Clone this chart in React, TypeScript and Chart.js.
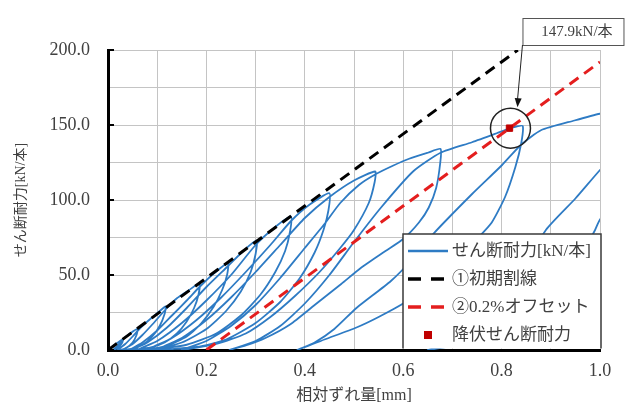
import React, { useEffect, useRef } from "react";
import { Chart, registerables } from "chart.js";

Chart.register(...registerables);

type Pt = [number, number];

// ---- axes ----
const xMin = 0;
const xMax = 1.0;
const xGridStep = 0.1;
const yMin = 0;
const yMax = 200;
const yGridStep = 25;
const xTickLabels = ["0.0", "0.2", "0.4", "0.6", "0.8", "1.0"];
const yTickLabels = ["0.0", "50.0", "100.0", "150.0", "200.0"];

// ---- texts ----
const seriesNames = ["せん断耐力[kN/本]", "①初期割線", "②0.2%オフセット", "降伏せん断耐力"];
const xTitle = "相対ずれ量[mm]";
const yTitle = "せん断耐力[kN/本]";
const annotationText = "147.9kN/本";

// ---- blue hysteresis curve: each block = unloading from a peak, then reloading to the next peak ----
const loading0: Pt[] = [[0, 0], [0.01, 2.5], [0.02, 5], [0.03, 7]];
const cycle1: Pt[] = [[0.029, 5], [0.022, 2], [0.015, 0.5], [0.01, 0], [0.02, 3], [0.03, 7], [0.045, 11], [0.06, 14]];
const cycle2: Pt[] = [[0.058, 10], [0.05, 5], [0.035, 1], [0.02, 0], [0.035, 4], [0.05, 9], [0.065, 14.5], [0.08, 19], [0.1, 24.5], [0.117, 29]];
const cycle3: Pt[] = [[0.115, 24], [0.105, 16], [0.09, 9], [0.07, 3.5], [0.05, 1], [0.03, 0], [0.05, 4], [0.07, 10], [0.09, 17], [0.117, 27], [0.14, 34.5], [0.165, 40], [0.186, 44.5]];
const cycle4: Pt[] = [[0.184, 37], [0.175, 28], [0.16, 19], [0.14, 11], [0.115, 5], [0.085, 1.5], [0.045, 0], [0.07, 5], [0.1, 13], [0.13, 23], [0.16, 33], [0.186, 42], [0.215, 51], [0.244, 58]];
const cycle5: Pt[] = [[0.242, 50], [0.232, 40], [0.215, 29], [0.19, 18], [0.16, 9], [0.12, 3], [0.08, 0.5], [0.05, 0], [0.08, 5], [0.12, 15], [0.16, 28], [0.2, 42], [0.244, 56], [0.275, 66], [0.302, 73]];
const cycle6: Pt[] = [[0.3, 64], [0.29, 52], [0.27, 39], [0.24, 26], [0.2, 14], [0.15, 5], [0.1, 1], [0.06, 0], [0.1, 6], [0.15, 18], [0.2, 33], [0.25, 50], [0.3, 70], [0.34, 82], [0.372, 89]];
const cycle7: Pt[] = [[0.37, 79], [0.36, 66], [0.34, 52], [0.31, 37], [0.27, 23], [0.22, 11], [0.16, 3.5], [0.08, 0], [0.13, 8], [0.18, 20], [0.23, 35], [0.28, 52], [0.33, 70], [0.372, 86], [0.41, 97], [0.45, 104.5]];
const cycle8: Pt[] = [[0.448, 93], [0.438, 80], [0.42, 65], [0.39, 48], [0.35, 32], [0.3, 18], [0.24, 7], [0.18, 2], [0.1, 0], [0.15, 8], [0.2, 20], [0.25, 35], [0.3, 52], [0.35, 70], [0.4, 88], [0.45, 102], [0.5, 113], [0.543, 119]];
const cycle9: Pt[] = [[0.542, 112], [0.53, 98], [0.5, 80], [0.472, 68], [0.43, 52], [0.38, 36], [0.33, 22], [0.28, 11], [0.22, 4], [0.15, 0], [0.2, 6], [0.25, 16], [0.3, 30], [0.35, 48], [0.4, 68], [0.44, 84], [0.472, 98], [0.51, 110], [0.543, 117], [0.58, 123], [0.612, 127.5], [0.65, 131.5], [0.676, 134]];
const cycle10: Pt[] = [[0.675, 124], [0.667, 108], [0.652, 95], [0.632, 85], [0.6, 74], [0.564, 66], [0.515, 55], [0.474, 44], [0.42, 30], [0.37, 17], [0.32, 8], [0.28, 3], [0.247, 0], [0.3, 6], [0.35, 16], [0.4, 31], [0.45, 50], [0.5, 72], [0.555, 95], [0.62, 119], [0.676, 131.5], [0.74, 138.5], [0.79, 144.5], [0.815, 147.6], [0.83, 149], [0.843, 149.3]];
const cycle11: Pt[] = [[0.84, 138], [0.828, 122], [0.807, 102], [0.78, 85], [0.75, 74], [0.7, 57], [0.65, 43], [0.605, 32], [0.55, 22], [0.505, 15], [0.44, 7], [0.385, 0], [0.42, 5], [0.46, 14], [0.505, 28], [0.575, 46], [0.62, 61], [0.66, 77], [0.74, 104], [0.8, 123], [0.84, 137], [0.88, 146.5], [0.948, 153], [1.0, 157.5], [1.08, 162], [1.15, 165]];
const cycle12: Pt[] = [[1.14, 150], [1.1, 125], [1.05, 104], [1.0, 87], [0.99, 80], [0.96, 62], [0.92, 44], [0.87, 28], [0.8, 13], [0.72, 4], [0.65, 0], [0.7, 5], [0.76, 20], [0.82, 42], [0.89, 80], [0.95, 101], [1.0, 120], [1.08, 148]];

const blueCycles: Pt[][] = [loading0, cycle1, cycle2, cycle3, cycle4, cycle5, cycle6, cycle7, cycle8, cycle9, cycle10, cycle11, cycle12];

// ---- straight lines & yield point ----
const secantX = [0, 0.833];
const secantY = [0, 200];
const offsetX = [0.2, 1.0];
const offsetY = [0, 192];
const yieldX = [0.816];
const yieldY = [147.9];

// ---- colours ----
const BLUE = "#2E7BC4";
const BLACK = "#000000";
const RED = "#E41E1E";
const MARKER = "#C00000";
const TEXT = "#404040";
const SERIF_JP = "'Liberation Serif', 'Times New Roman', 'Noto Sans CJK JP', serif";

const toXY = (xs: number[], ys: number[]) => xs.map((x, i) => ({ x, y: ys[i] }));

const legendPlugin = {
  id: "boxLegend",
  afterDraw(chart: any) {
    const { ctx, chartArea } = chart;
    const left = chartArea.right - 197;
    const right = chartArea.right + 1;
    const top = chartArea.bottom - 116;
    const bottom = chartArea.bottom - 1.5;
    ctx.save();
    ctx.fillStyle = "#ffffff";
    ctx.fillRect(left, top, right - left, bottom - top);
    ctx.strokeStyle = "#3a3a3a";
    ctx.lineWidth = 1.5;
    ctx.beginPath();
    ctx.moveTo(left, bottom);
    ctx.lineTo(left, top);
    ctx.lineTo(right, top);
    ctx.lineTo(right, bottom);
    ctx.stroke();

    const rowY = (i: number) => top + 17 + i * 28;
    const sx0 = left + 5;
    const sx1 = left + 45;
    // blue solid
    ctx.setLineDash([]);
    ctx.strokeStyle = BLUE;
    ctx.lineWidth = 2.5;
    ctx.beginPath();
    ctx.moveTo(sx0, rowY(0));
    ctx.lineTo(sx1, rowY(0));
    ctx.stroke();
    // black dashed
    ctx.setLineDash([13, 10]);
    ctx.lineWidth = 3.5;
    ctx.strokeStyle = BLACK;
    ctx.beginPath();
    ctx.moveTo(sx0, rowY(1));
    ctx.lineTo(sx1, rowY(1));
    ctx.stroke();
    // red dashed
    ctx.strokeStyle = RED;
    ctx.beginPath();
    ctx.moveTo(sx0, rowY(2));
    ctx.lineTo(sx1, rowY(2));
    ctx.stroke();
    ctx.setLineDash([]);
    // marker
    ctx.fillStyle = MARKER;
    ctx.fillRect(left + 25 - 4, rowY(3) - 4, 8, 8);

    ctx.fillStyle = TEXT;
    ctx.font = `17px ${SERIF_JP}`;
    ctx.textBaseline = "middle";
    ctx.textAlign = "left";
    seriesNames.forEach((n, i) => ctx.fillText(n, left + 49, rowY(i) + 1));
    ctx.restore();
  },
};

const annotationPlugin = {
  id: "yieldAnnotation",
  afterDatasetsDraw(chart: any) {
    const { ctx, chartArea, scales } = chart;
    const cx = scales.x.getPixelForValue(yieldX[0]);
    const cy = scales.y.getPixelForValue(yieldY[0]);
    ctx.save();
    // y-axis inner tick marks at labelled values
    ctx.strokeStyle = "#000";
    ctx.lineWidth = 2;
    yTickLabels.forEach((t) => {
      const py = scales.y.getPixelForValue(parseFloat(t));
      ctx.beginPath();
      ctx.moveTo(chartArea.left, py);
      ctx.lineTo(chartArea.left + 6, py);
      ctx.stroke();
    });
    // circle
    ctx.strokeStyle = "#222";
    ctx.lineWidth = 1.5;
    ctx.beginPath();
    ctx.arc(cx + 1, cy, 20, 0, Math.PI * 2);
    ctx.stroke();
    // callout box
    const bx = cx + 13;
    const bh = 27;
    const by = chartArea.top - 32;
    const bw = 101;
    ctx.fillStyle = "#fff";
    ctx.fillRect(bx, by, bw, bh);
    ctx.strokeStyle = "#555";
    ctx.lineWidth = 1;
    ctx.strokeRect(bx + 0.5, by + 0.5, bw, bh);
    ctx.fillStyle = TEXT;
    ctx.font = `15px ${SERIF_JP}`;
    ctx.textAlign = "center";
    ctx.textBaseline = "middle";
    ctx.fillText(annotationText, bx + bw / 2 + 4, by + bh / 2 + 1);
    // arrow
    const ax0 = bx;
    const ay0 = by + bh;
    const ax1 = cx + 8;
    const ay1 = cy - 21;
    ctx.strokeStyle = "#222";
    ctx.lineWidth = 1;
    ctx.beginPath();
    ctx.moveTo(ax0, ay0);
    ctx.lineTo(ax1, ay1 - 7);
    ctx.stroke();
    const ang = Math.atan2(ay1 - ay0, ax1 - ax0);
    ctx.fillStyle = "#111";
    ctx.beginPath();
    ctx.moveTo(ax1, ay1);
    ctx.lineTo(ax1 - 9 * Math.cos(ang) + 3.5 * Math.sin(ang), ay1 - 9 * Math.sin(ang) - 3.5 * Math.cos(ang));
    ctx.lineTo(ax1 - 9 * Math.cos(ang) - 3.5 * Math.sin(ang), ay1 - 9 * Math.sin(ang) + 3.5 * Math.cos(ang));
    ctx.closePath();
    ctx.fill();
    ctx.restore();
  },
};

export default function App() {
  const ref = useRef<HTMLCanvasElement>(null);

  useEffect(() => {
    const blueData = blueCycles.flat().map(([x, y]) => ({ x, y }));
    const chart = new Chart(ref.current!, {
      type: "scatter",
      data: {
        datasets: [
          {
            label: seriesNames[3],
            data: toXY(yieldX, yieldY),
            showLine: false,
            pointStyle: "rect",
            pointRadius: 4.5,
            pointBackgroundColor: MARKER,
            pointBorderColor: MARKER,
            order: 0,
          },
          {
            label: seriesNames[2],
            data: toXY(offsetX, offsetY),
            showLine: true,
            borderColor: RED,
            borderWidth: 3,
            borderDash: [11, 7],
            pointRadius: 0,
            order: 1,
          },
          {
            label: seriesNames[1],
            data: toXY(secantX, secantY),
            showLine: true,
            borderColor: BLACK,
            borderWidth: 3,
            borderDash: [11, 7],
            pointRadius: 0,
            order: 2,
          },
          {
            label: seriesNames[0],
            data: blueData,
            showLine: true,
            borderColor: BLUE,
            borderWidth: 1.8,
            pointRadius: 0,
            tension: 0.2,
            order: 3,
          },
        ],
      },
      options: {
        responsive: false,
        animation: false,
        devicePixelRatio: 1,
        layout: { padding: { left: 0, right: 31, top: 50, bottom: 0 } },
        plugins: { legend: { display: false }, tooltip: { enabled: false } },
        scales: {
          x: {
            type: "linear",
            min: xMin,
            max: xMax,
            afterFit: (s: any) => {
              s.height = 57;
            },
            ticks: {
              stepSize: xGridStep,
              autoSkip: false,
              maxRotation: 0,
              padding: 10,
              color: TEXT,
              font: { family: SERIF_JP, size: 18 },
              callback: (v: any) => {
                const i = Math.round(Number(v) * 10);
                return i % 2 === 0 ? xTickLabels[i / 2] : "";
              },
            },
            grid: { color: "#c4c4c4", lineWidth: 1, drawTicks: false },
            border: { color: "#000", width: 3 },
            title: {
              display: true,
              text: xTitle,
              color: TEXT,
              font: { family: SERIF_JP, size: 16 },
              padding: { top: 0, bottom: 2 },
            },
          },
          y: {
            type: "linear",
            min: yMin,
            max: yMax,
            afterFit: (s: any) => {
              s.width = 108;
            },
            ticks: {
              stepSize: yGridStep,
              autoSkip: false,
              padding: 18,
              color: TEXT,
              font: { family: SERIF_JP, size: 18 },
              callback: (v: any) => {
                const i = Math.round(Number(v) / 25);
                return i % 2 === 0 ? yTickLabels[i / 2] : "";
              },
            },
            grid: { color: "#c4c4c4", lineWidth: 1, drawTicks: false },
            border: { color: "#000", width: 3 },
            title: {
              display: true,
              text: yTitle,
              color: TEXT,
              font: { family: SERIF_JP, size: 14 },
              padding: { top: 13, bottom: 0 },
            },
          },
        },
      },
      plugins: [annotationPlugin, legendPlugin],
    });
    return () => chart.destroy();
  }, []);

  return (
    <div style={{ position: "fixed", left: 0, top: 0, width: 631, height: 407, background: "#fff" }}>
      <canvas ref={ref} width={631} height={407} style={{ display: "block", width: 631, height: 407 }} />
    </div>
  );
}
